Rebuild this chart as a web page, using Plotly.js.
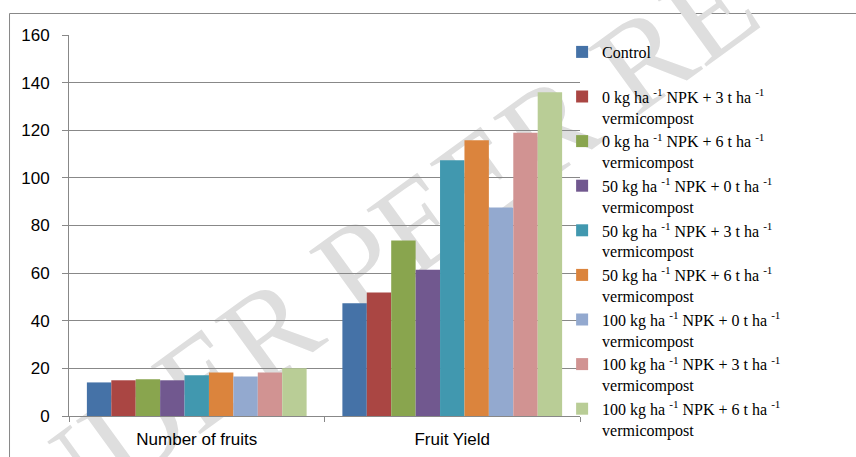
<!DOCTYPE html>
<html>
<head>
<meta charset="utf-8">
<script src="https://cdn.plot.ly/plotly-3.0.1.min.js"></script>
<style>html,body{margin:0;padding:0;background:#fff;}#chart{width:856px;height:457px;}</style>
</head>
<body>
<div id="chart"></div>
<script>
const categories = ["Number of fruits", "Fruit Yield"];
const seriesNames = [
  "Control<br>&nbsp;",
  "0 kg ha <sup>-1</sup> NPK + 3 t ha <sup>-1</sup><br>vermicompost",
  "0 kg ha <sup>-1</sup> NPK + 6 t ha <sup>-1</sup><br>vermicompost",
  "50 kg ha <sup>-1</sup> NPK + 0 t ha <sup>-1</sup><br>vermicompost",
  "50 kg ha <sup>-1</sup> NPK + 3 t ha <sup>-1</sup><br>vermicompost",
  "50 kg ha <sup>-1</sup> NPK + 6 t ha <sup>-1</sup><br>vermicompost",
  "100 kg ha <sup>-1</sup> NPK + 0 t ha <sup>-1</sup><br>vermicompost",
  "100 kg ha <sup>-1</sup> NPK + 3 t ha <sup>-1</sup><br>vermicompost",
  "100 kg ha <sup>-1</sup> NPK + 6 t ha <sup>-1</sup><br>vermicompost"
];
const control   = [14.1, 47.4];
const n0v3      = [15.0, 51.9];
const n0v6      = [15.4, 73.7];
const n50v0     = [15.0, 61.4];
const n50v3     = [17.1, 107.4];
const n50v6     = [18.3, 115.8];
const n100v0    = [16.6, 87.6];
const n100v3    = [18.3, 118.9];
const n100v6    = [20.1, 136.0];
const seriesValues = [control, n0v3, n0v6, n50v0, n50v3, n50v6, n100v0, n100v3, n100v6];
const colors = ["#4572A7", "#AA4643", "#89A54E", "#71588F", "#4198AF", "#DB843D", "#93A9CF", "#D19392", "#B9CD96"];
const yTicks = [0, 20, 40, 60, 80, 100, 120, 140, 160];
const watermark = "UNDER PEER REVIEW";

const traces = seriesValues.map((vals, i) => ({
  type: "bar",
  x: categories,
  y: vals,
  name: seriesNames[i],
  marker: {color: colors[i], line: {width: 0}},
  hoverinfo: "none"
}));

const gray = "#888888";
const layout = {
  width: 856, height: 457,
  margin: {l: 69, r: 276, t: 35, b: 41},
  paper_bgcolor: "#ffffff", plot_bgcolor: "rgba(0,0,0,0)",
  barmode: "group", bargap: 0.14, bargroupgap: 0,
  showlegend: true,
  legend: {
    x: 0.965, xanchor: "left", y: 1.0, yanchor: "top",
    valign: "top", maxheight: 450,
    font: {family: "Liberation Serif, Times New Roman, serif", size: 16, color: "#000"},
    bgcolor: "rgba(0,0,0,0)", tracegroupgap: 0
  },
  xaxis: {
    type: "category", tickson: "boundaries", ticks: "outside", ticklen: 5,
    tickcolor: gray, showline: true, linecolor: gray, linewidth: 1,
    showgrid: false, zeroline: false,
    tickfont: {family: "Liberation Sans, Arial, sans-serif", size: 17, color: "#000"},
    ticklabelstandoff: 8
  },
  yaxis: {
    range: [0, 160], tickvals: yTicks, ticktext: yTicks.map(String),
    ticks: "outside", ticklen: 6, tickcolor: gray,
    showline: true, linecolor: gray, linewidth: 1,
    showgrid: true, gridcolor: gray, gridwidth: 1, zeroline: false,
    tickfont: {family: "Liberation Sans, Arial, sans-serif", size: 17, color: "#000"},
    ticklabelstandoff: 9
  },
  shapes: [
    {type: "rect", xref: "paper", yref: "paper", x0: -0.1164, x1: 2, y0: -1, y1: 1.0564,
     line: {color: gray, width: 1}, fillcolor: "rgba(0,0,0,0)", layer: "below"},
    {type: "rect", xref: "paper", yref: "paper", x0: 0.737, x1: 0.837, y0: 0.604, y1: 0.704,
     line: {width: 0}, fillcolor: "rgba(0,0,0,0)", layer: "below",
     label: {text: watermark, textangle: -36, textposition: "middle center",
             font: {family: "Liberation Serif, Times New Roman, serif", size: 128, color: "#dedede"}}}
  ]
};

Plotly.newPlot("chart", traces, layout, {displayModeBar: false, staticPlot: true});
</script>
</body>
</html>
